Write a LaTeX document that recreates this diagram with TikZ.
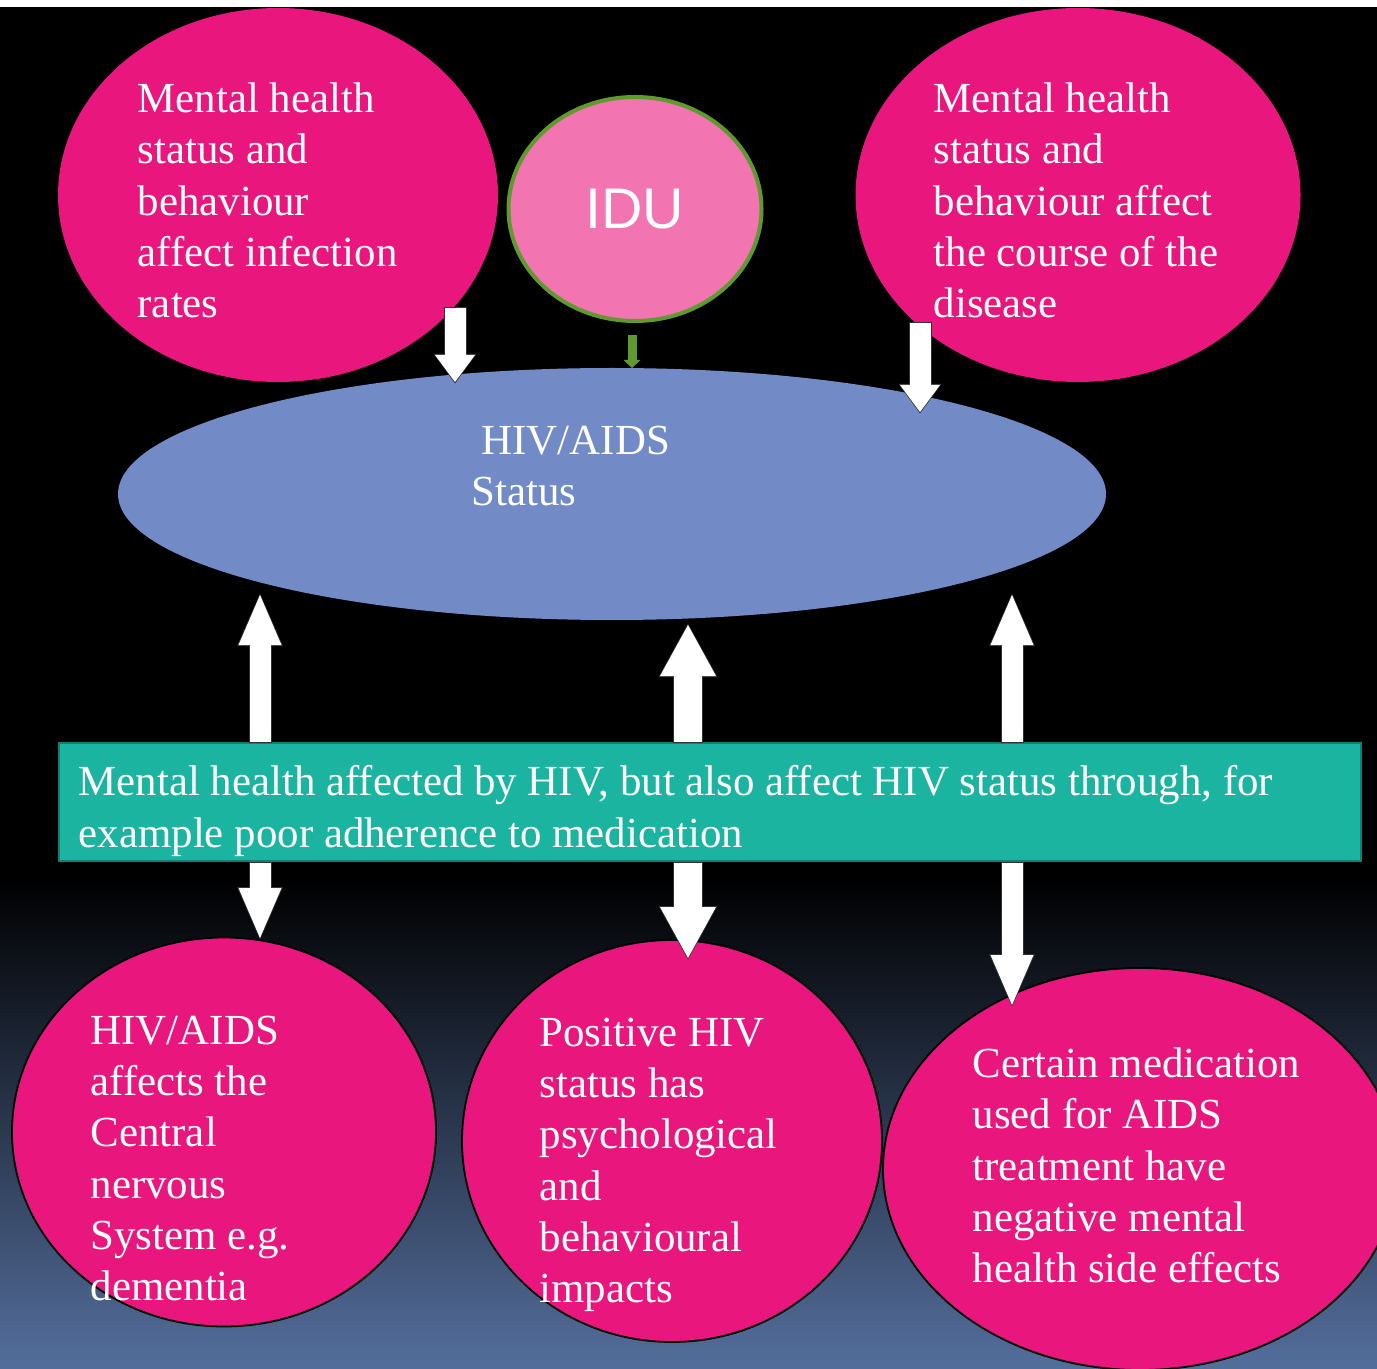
\documentclass[tikz,border=0pt]{standalone}
\usepackage{fontspec}
\setmainfont{Liberation Serif}
\newfontfamily\idufont{Liberation Sans}
\usepackage{tikz}
\usetikzlibrary{arrows.meta}
\usetikzlibrary{shapes.geometric}
\usepackage{xcolor}
\definecolor{bubblepink}{RGB}{233,23,125}
\definecolor{idupink}{RGB}{242,116,176}
\definecolor{idugreen}{RGB}{94,154,46}
\definecolor{statusblue}{RGB}{114,139,199}
\definecolor{bandteal}{RGB}{27,180,160}
\definecolor{bandedge}{RGB}{18,128,112}
\definecolor{bgmid}{RGB}{45,60,88}
\definecolor{bgbottom}{RGB}{84,110,156}
\newcommand{\bodysize}{\fontsize{12.2}{14.6}\selectfont}
\tikzset{
    bubble/.style={ellipse, fill=bubblepink, inner sep=0pt},
    lowbubble/.style={bubble, draw=black, line width=0.18mm},
    bubbletext/.style={anchor=north west, inner sep=0pt, align=left, text=white, font=\bodysize},
    toparrow/.style={white, line width=2.1mm, -{Triangle[width=4mm, length=2.7mm, line width=0pt]},
        preaction={draw=black!80, line width=2.3mm, -{Triangle[width=4.3mm, length=2.95mm, line width=0pt]},
            shorten >=-0.15mm, shorten <=-0.1mm}},
    sidearrow/.style={white, line width=2.1mm, -{Triangle[width=4.3mm, length=5mm, line width=0pt]},
        preaction={draw=black!80, line width=2.3mm, -{Triangle[width=4.6mm, length=5.25mm, line width=0pt]},
            shorten >=-0.15mm, shorten <=-0.1mm}},
    midarrow/.style={white, line width=2.8mm, -{Triangle[width=5.6mm, length=5.1mm, line width=0pt]},
        preaction={draw=black!80, line width=3mm, -{Triangle[width=5.9mm, length=5.35mm, line width=0pt]},
            shorten >=-0.15mm, shorten <=-0.1mm}},
    greenarrow/.style={idugreen, line width=0.9mm, -{Triangle[width=1.7mm, length=0.8mm, line width=0pt]}},
}
\begin{document}
\begin{tikzpicture}[x=0.1mm, y=-0.1mm]
    \useasboundingbox (0,0) rectangle (1377,1368);
    % background
    \fill[white] (0,0) rectangle (1377,7);
    \fill[black] (0,7) rectangle (1377,881);
    \shade[top color=black, middle color=bgmid, bottom color=bgbottom] (0,880) rectangle (1377,1368);

    % top row
    \node[bubble, minimum width=44mm, minimum height=37.4mm] (infect) at (278,195) {};
    \node[bubble, minimum width=44.5mm, minimum height=37.4mm] (course) at (1078,195) {};
    \node[ellipse, fill=idupink, draw=idugreen, line width=0.4mm, inner sep=0pt,
        minimum width=25.3mm, minimum height=22.4mm, font=\idufont\fontsize{16.3}{19}\selectfont, text=white]
        (idu) at (635,209) {IDU};
    \node[bubbletext] (infect-text) at (137,82)
        {Mental health\\status and\\behaviour\\affect infection\\rates};
    \node[bubbletext] (course-text) at (933,82)
        {Mental health\\status and\\behaviour affect\\the course of the\\disease};

    % centre
    \node[ellipse, fill=statusblue, inner sep=0pt, minimum width=98.8mm, minimum height=25.2mm]
        (status) at (612,494) {};
    \node[bubbletext] (status-text) at (471,425) {\hspace*{1mm}HIV/AIDS\\Status};

    \node[rectangle, fill=bandteal, draw=bandedge, line width=0.15mm,
        minimum width=130.2mm, minimum height=11.8mm] (band) at (710,802) {};
    \node[bubbletext] (band-text) at (78,765)
        {Mental health affected by HIV, but also affect HIV status through, for\\example poor adherence to medication};

    % bottom row
    \node[lowbubble, minimum width=42.4mm, minimum height=38.9mm] (cns) at (224,1132) {};
    \node[lowbubble, minimum width=42mm, minimum height=40.2mm] (psych) at (672,1141) {};
    \node[lowbubble, minimum width=51.4mm, minimum height=40.2mm] (meds) at (1140,1169) {};
    \node[bubbletext] (cns-text) at (90,1015)
        {HIV/AIDS\\affects the\\Central\\nervous\\System e.g.\\dementia};
    \node[bubbletext] (psych-text) at (539,1017)
        {Positive HIV\\status has\\psychological\\and\\behavioural\\impacts};
    \node[bubbletext] (meds-text) at (972,1047)
        {Certain medication\\used for AIDS\\treatment have\\negative mental\\health side effects};

    % arrow ends
    \coordinate (infect-out) at (455,308);
    \coordinate (course-out) at (920,323);
    \coordinate (idu-out) at (632,335);
    \coordinate (status-in-l) at (455,382);
    \coordinate (status-in-m) at (632,368);
    \coordinate (status-in-r) at (920,412);
    \coordinate (status-out-l) at (260,595);
    \coordinate (status-out-m) at (688,625);
    \coordinate (status-out-r) at (1012,595);
    \coordinate (band-up-l) at (260,742);
    \coordinate (band-up-m) at (688,742);
    \coordinate (band-up-r) at (1012,742);
    \coordinate (band-down-l) at (260,863);
    \coordinate (band-down-m) at (688,863);
    \coordinate (band-down-r) at (1012,863);
    \coordinate (cns-in) at (260,938);
    \coordinate (psych-in) at (688,958);
    \coordinate (meds-in) at (1012,1005);

    \draw[toparrow] (infect-out) -- (status-in-l);
    \draw[toparrow] (course-out) -- (status-in-r);
    \draw[greenarrow] (idu-out) -- (status-in-m);
    \draw[sidearrow] (band-up-l) -- (status-out-l);
    \draw[midarrow] (band-up-m) -- (status-out-m);
    \draw[sidearrow] (band-up-r) -- (status-out-r);
    \draw[sidearrow] (band-down-l) -- (cns-in);
    \draw[midarrow] (band-down-m) -- (psych-in);
    \draw[sidearrow] (band-down-r) -- (meds-in);
\end{tikzpicture}
\end{document}
